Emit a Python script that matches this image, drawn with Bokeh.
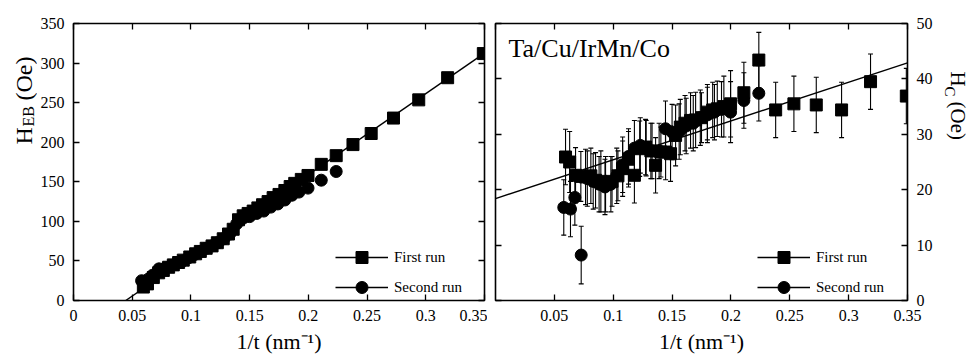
import numpy as np
from bokeh.plotting import figure
from bokeh.layouts import row
from bokeh.models import (ColumnDataSource, Whisker, TeeHead, Label, Legend, LegendItem,
                          LinearAxis, FixedTicker, Range1d)
from bokeh.embed import file_html
from bokeh.resources import INLINE

# ---------------- data ----------------
inv_t_first = [0.0595, 0.063, 0.068, 0.0725, 0.0765, 0.081, 0.085, 0.0895, 0.0935, 0.099,
               0.104, 0.108, 0.113, 0.118, 0.1225, 0.1275, 0.132, 0.136, 0.1405, 0.1445,
               0.1487, 0.153, 0.157, 0.161, 0.1657, 0.170, 0.175, 0.180, 0.1845, 0.1884,
               0.194, 0.1997, 0.211, 0.2237, 0.238, 0.2535, 0.2725, 0.294, 0.3186, 0.349]
heb_first = [17, 21, 29, 35, 38, 42, 45, 48, 51, 55,
             59, 62, 66, 69, 73, 78, 84, 90, 102, 107,
             110, 113, 117, 121, 125, 130, 134, 139, 144, 148,
             153, 158, 172, 183, 197, 211, 230.5, 253.5, 281.5, 312]
hc_first = [25.9, 25.0, 22.6, 22.4, 22.3, 22.5, 21.7, 21.5, 21.0, 21.5,
            22.5, 23.8, 25.5, 22.6, 27.4, 27.7, 27.0, 24.4, 26.8, 26.8,
            26.5, 29.8, 31.3, 32.0, 32.5, 32.6, 33.0, 34.0, 34.4, 34.6,
            35.0, 35.5, 37.5, 43.4, 34.4, 35.5, 35.3, 34.4, 39.5, 36.9]
hc_first_err = [5.0, 5.5, 5.0, 4.5, 5.0, 5.0, 5.0, 5.5, 5.0, 4.5,
                4.5, 5.0, 5.0, 5.0, 5.0, 5.0, 5.0, 5.0, 4.5, 5.0,
                5.0, 5.5, 5.0, 5.0, 5.0, 5.0, 4.5, 5.0, 5.0, 5.0,
                5.5, 6.0, 5.5, 5.0, 5.0, 5.0, 5.0, 5.0, 5.0, 5.0]

inv_t_second = [0.058, 0.0637, 0.0674, 0.0728, 0.078, 0.083, 0.088, 0.093, 0.098, 0.103,
                0.108, 0.113, 0.118, 0.123, 0.128, 0.133, 0.139, 0.1444, 0.150, 0.156,
                0.162, 0.168, 0.174, 0.180, 0.186, 0.192, 0.1997, 0.211, 0.2237]
heb_second = [25, 27, 32, 40, 41, 44, 47, 50, 54, 58,
              62, 66, 69, 73, 78, 84, 97, 104, 106, 110,
              113, 118, 122, 127, 133, 137, 142, 152, 163]
hc_second = [16.8, 16.5, 18.6, 8.2, 22.0, 21.5, 21.0, 20.5, 21.0, 22.5,
             24.5, 26.0, 27.5, 28.0, 27.5, 27.0, 27.0, 31.0, 30.4, 30.5,
             31.5, 32.0, 33.0, 33.5, 34.0, 34.5, 34.0, 36.1, 37.4]
hc_second_err = [5.0, 5.0, 5.0, 5.2, 5.0, 5.0, 5.0, 5.0, 5.0, 5.0,
                 5.0, 5.0, 5.0, 5.0, 5.0, 5.0, 5.0, 5.0, 5.0, 5.0,
                 5.0, 5.0, 5.0, 5.0, 5.0, 5.0, 5.5, 5.0, 5.0]

# linear fits
heb_fit_slope = 1023.0
heb_fit_x0 = 0.0445
hc_fit_intercept = 18.4
hc_fit_slope = 70.0

x_ticks_left = [0, 0.05, 0.1, 0.15, 0.2, 0.25, 0.3, 0.35]
x_tick_labels_left = ["0", "0.05", "0.1", "0.15", "0.2", "0.25", "0.3", "0.35"]
x_ticks_right = [0.05, 0.1, 0.15, 0.2, 0.25, 0.3, 0.35]
x_tick_labels_right = ["0.05", "0.1", "0.15", "0.2", "0.25", "0.3", "0.35"]
y_ticks_left = [0, 50, 100, 150, 200, 250, 300, 350]
y_tick_labels_left = ["0", "50", "100", "150", "200", "250", "300", "350"]
y_ticks_right = [0, 10, 20, 30, 40, 50]
y_tick_labels_right = ["0", "10", "20", "30", "40", "50"]

legend_labels = ["First run", "Second run"]
title_right = "Ta/Cu/IrMn/Co"
x_axis_title = "1/t (nm\u207b\u00b9)"

FONT = "Liberation Serif"
H = 355


def make_axis(ticks, labels=None, title=None):
    ax = LinearAxis(ticker=FixedTicker(ticks=ticks))
    ax.major_tick_in = 6
    ax.major_tick_out = 0
    ax.minor_tick_line_color = None
    ax.axis_line_color = None
    ax.major_tick_line_color = "black"
    ax.major_tick_line_width = 1.3
    if labels is None:
        ax.major_label_overrides = {t: "" for t in ticks}
        ax.major_label_text_font_size = "0px"
        ax.major_label_standoff = 0
    else:
        ax.major_label_overrides = {t: l for t, l in zip(ticks, labels)}
        ax.major_label_text_font = FONT
        ax.major_label_text_font_size = "16px"
        ax.major_label_text_color = "black"
        ax.major_label_standoff = 9
    if title is not None:
        ax.axis_label = title
        ax.axis_label_text_font = FONT
        ax.axis_label_text_font_size = "22px"
        ax.axis_label_text_font_style = "normal"
        ax.axis_label_text_color = "black"
        ax.axis_label_standoff = 5
    return ax


def base_fig(y_end, frame_w, border_left, border_right):
    p = figure(frame_width=frame_w, frame_height=277,
               x_range=Range1d(0, 0.35), y_range=Range1d(0, y_end),
               output_backend="svg", toolbar_location=None,
               min_border_left=border_left, min_border_right=border_right,
               min_border_top=23, min_border_bottom=55,
               x_axis_location=None, y_axis_location=None)
    p.xgrid.visible = False
    p.ygrid.visible = False
    p.outline_line_color = "black"
    p.outline_line_width = 1.6
    p.background_fill_color = "white"
    p.border_fill_color = "white"
    return p


def add_legend(p, r_sq, r_ci):
    d1 = p.line([np.nan], [np.nan], line_color="black", line_width=1.3)
    d2 = p.line([np.nan], [np.nan], line_color="black", line_width=1.3)
    leg = Legend(items=[LegendItem(label=legend_labels[0], renderers=[d1, r_sq]),
                        LegendItem(label=legend_labels[1], renderers=[d2, r_ci])],
                 location=(262, -2))
    leg.glyph_width = 53
    leg.glyph_height = 30
    leg.label_height = 15
    leg.label_standoff = 6
    leg.padding = 0
    leg.spacing = -14
    leg.margin = 0
    leg.border_line_color = None
    leg.background_fill_alpha = 0
    leg.label_text_font = FONT
    leg.label_text_font_size = "15px"
    leg.label_text_color = "black"
    p.add_layout(leg)


def label_fig(width):
    f = figure(width=width, height=H, x_range=Range1d(0, 1), y_range=Range1d(0, 1),
               output_backend="svg", toolbar_location=None, min_border=0,
               min_border_left=0, min_border_right=0, min_border_top=0, min_border_bottom=0,
               x_axis_location=None, y_axis_location=None)
    f.xgrid.visible = False
    f.ygrid.visible = False
    f.outline_line_color = None
    f.background_fill_color = "white"
    f.border_fill_color = "white"
    return f


def add_text(f, x, y, text, size, angle=0.0):
    f.add_layout(Label(x=x, y=y, x_units="screen", y_units="screen", text=text, angle=angle,
                       text_align="left", text_baseline="alphabetic", text_font=FONT,
                       text_font_size=size, text_color="black"))


# ---------------- left axis title strip ----------------
lab1 = label_fig(37)
add_text(lab1, 23, 155, "H", "24px", np.pi / 2)
add_text(lab1, 28, 173, "EB", "16px", np.pi / 2)
add_text(lab1, 23, 199, "(Oe)", "24px", np.pi / 2)

# ---------------- left panel: H_EB ----------------
p1 = base_fig(350, 411, 36, 3)
p1.add_layout(make_axis(x_ticks_left, x_tick_labels_left, x_axis_title), "below")
p1.add_layout(make_axis(y_ticks_left, y_tick_labels_left), "left")
p1.add_layout(make_axis(x_ticks_left), "above")
p1.add_layout(make_axis(y_ticks_left), "right")

xfit1 = np.array([heb_fit_x0, p1.x_range.end])
p1.line(xfit1, heb_fit_slope * (xfit1 - heb_fit_x0), line_color="black", line_width=1.4)
sq1 = p1.scatter(inv_t_first, heb_first, marker="square", size=12, color="black")
ci1 = p1.scatter(inv_t_second, heb_second, marker="circle", size=12, color="black")
add_legend(p1, sq1, ci1)

# ---------------- right panel: H_C ----------------
p2 = base_fig(50, 412, 8, 33)
p2.add_layout(make_axis(x_ticks_right, x_tick_labels_right, x_axis_title), "below")
p2.add_layout(make_axis(y_ticks_right, y_tick_labels_right), "right")
p2.add_layout(make_axis(x_ticks_left), "above")
p2.add_layout(make_axis(y_ticks_right), "left")

xfit2 = np.array([p2.x_range.start, p2.x_range.end])
p2.line(xfit2, hc_fit_intercept + hc_fit_slope * xfit2, line_color="black", line_width=1.4)

src1 = ColumnDataSource(dict(x=inv_t_first, y=hc_first,
                             lo=np.array(hc_first) - np.array(hc_first_err),
                             hi=np.array(hc_first) + np.array(hc_first_err)))
src2 = ColumnDataSource(dict(x=inv_t_second, y=hc_second,
                             lo=np.array(hc_second) - np.array(hc_second_err),
                             hi=np.array(hc_second) + np.array(hc_second_err)))
for s in (src1, src2):
    p2.add_layout(Whisker(source=s, base="x", lower="lo", upper="hi", dimension="height",
                          line_color="black", line_width=1.1,
                          upper_head=TeeHead(size=5, line_color="black", line_width=1.1),
                          lower_head=TeeHead(size=5, line_color="black", line_width=1.1)))
sq2 = p2.scatter("x", "y", source=src1, marker="square", size=12, color="black")
ci2 = p2.scatter("x", "y", source=src2, marker="circle", size=12, color="black")
add_legend(p2, sq2, ci2)

p2.add_layout(Label(x=13, y=252, x_units="screen", y_units="screen", text=title_right,
                    text_align="left", text_baseline="alphabetic", text_font=FONT,
                    text_font_size="26px", text_color="black"))

# ---------------- right axis title strip ----------------
lab2 = label_fig(32)
add_text(lab2, 17, 228, "H", "21px", -np.pi / 2)
add_text(lab2, 9, 213, "C", "15px", -np.pi / 2)
add_text(lab2, 17, 198, "(Oe)", "21px", -np.pi / 2)

layout = row(lab1, p1, p2, lab2)
open("out.html", "w").write(file_html(layout, INLINE))
